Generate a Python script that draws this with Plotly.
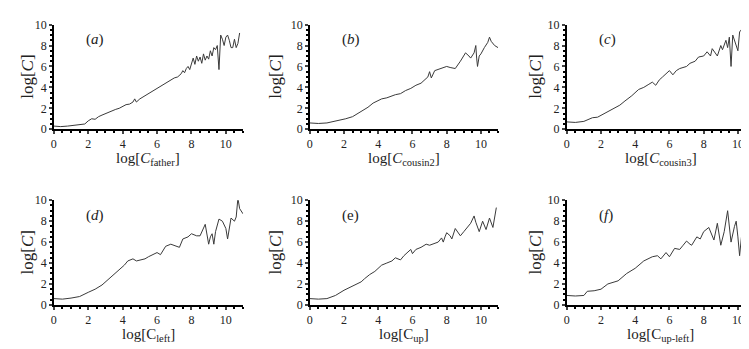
import plotly.graph_objects as go
from plotly.subplots import make_subplots

# ---- data ----
a_x = [0, 0.4, 0.8, 1.2, 1.6, 1.8, 2.0, 2.2, 2.4, 2.6, 2.8, 3.0, 3.2, 3.4, 3.6, 3.8, 4.0, 4.2, 4.4, 4.6, 4.7, 4.8, 5.0, 5.2, 5.4, 5.6, 5.8, 6.0, 6.2, 6.4, 6.6, 6.8, 7.0, 7.2, 7.4, 7.5, 7.6, 7.7, 7.8, 7.9, 8.0, 8.1, 8.2, 8.3, 8.4, 8.5, 8.6, 8.7, 8.8, 8.9, 9.0, 9.1, 9.2, 9.3, 9.4, 9.5, 9.6, 9.65, 9.7, 9.8, 9.9, 10.0, 10.1, 10.2, 10.3, 10.4, 10.5, 10.6, 10.7, 10.8]
a_y = [0.3, 0.25, 0.3, 0.4, 0.45, 0.5, 0.8, 1.0, 0.95, 1.2, 1.35, 1.5, 1.6, 1.8, 1.9, 2.0, 2.2, 2.35, 2.4, 2.6, 2.9, 2.6, 2.9, 3.1, 3.3, 3.5, 3.7, 3.9, 4.1, 4.3, 4.5, 4.7, 4.9, 5.0, 5.3, 5.6, 5.4, 5.8, 6.0, 5.7, 6.4, 6.8, 6.2, 7.0, 6.5, 6.9, 6.3, 7.2, 6.6, 7.0, 6.7, 7.5, 7.0, 7.8, 7.6, 8.0, 5.7, 7.8, 9.0, 8.6, 8.0, 8.8, 9.0, 8.5, 7.8, 7.8, 8.6, 7.8, 8.2, 9.2]

b_x = [0, 0.5, 1.0, 1.4, 1.7, 2.1, 2.5, 3.0, 3.4, 3.7, 4.0, 4.2, 4.5, 5.0, 5.3, 5.6, 5.9, 6.2, 6.5, 6.8, 6.9, 7.0, 7.1, 7.3, 7.5, 7.8, 8.0, 8.2, 8.5, 8.8, 9.1, 9.3, 9.4, 9.6, 9.7, 9.75, 9.8, 9.9, 10.0, 10.2, 10.4, 10.5, 10.6, 10.8, 11.0]
b_y = [0.6, 0.55, 0.6, 0.75, 0.8, 1.0, 1.2, 1.7, 2.1, 2.5, 2.7, 2.9, 3.0, 3.3, 3.4, 3.7, 3.9, 4.2, 4.4, 4.8, 5.0, 5.5, 4.9, 5.6, 5.7, 5.9, 6.0, 5.9, 5.8, 6.5, 7.3, 7.0, 6.8, 7.3, 8.0, 6.8, 6.0, 7.0, 7.2, 7.8, 8.3, 8.8, 8.4, 8.0, 7.8]

c_x = [0, 0.5, 1.0, 1.5, 1.8, 2.2, 2.5, 2.8, 3.1, 3.4, 3.8, 4.2, 4.5, 4.8, 5.0, 5.2, 5.4, 5.6, 5.8, 6.0, 6.2, 6.4, 6.6, 6.8, 7.0, 7.2, 7.5, 7.7, 8.0, 8.2, 8.4, 8.5, 8.7, 8.8, 9.0, 9.1, 9.3, 9.4, 9.5, 9.6, 9.7, 9.8, 9.9, 10.0, 10.1, 10.2, 10.3, 10.4, 10.5, 10.7, 10.9, 11.0]
c_y = [0.7, 0.65, 0.75, 1.1, 1.15, 1.5, 1.7, 2.0, 2.3, 2.7, 3.2, 3.8, 4.0, 4.3, 4.5, 4.2, 4.7, 5.0, 5.3, 5.6, 5.2, 5.6, 5.8, 5.9, 6.0, 6.3, 6.5, 6.9, 7.0, 7.4, 7.0, 7.7, 7.2, 7.0, 8.0, 7.6, 8.5, 7.8, 8.8, 6.0, 9.0, 8.5, 8.0, 7.5, 9.3, 9.5, 8.2, 8.0, 9.2, 9.7, 9.4, 9.5]

d_x = [0, 0.5, 1.0, 1.5, 2.0, 2.4, 2.8, 3.2, 3.5, 3.8, 4.1, 4.3, 4.6, 4.8, 5.0, 5.3, 5.5, 5.8, 6.0, 6.2, 6.5, 6.8, 7.0, 7.3, 7.5, 7.8, 8.0, 8.3, 8.5, 8.8, 9.0, 9.1, 9.2, 9.3, 9.4, 9.6, 9.8, 10.0, 10.1, 10.2, 10.3, 10.5, 10.6, 10.7, 10.8, 11.0]
d_y = [0.6, 0.55, 0.65, 0.8, 1.2, 1.5, 1.9, 2.5, 2.9, 3.4, 3.8, 4.2, 4.4, 4.2, 4.3, 4.4, 4.6, 4.8, 5.0, 4.8, 5.6, 5.8, 5.7, 5.5, 6.3, 6.5, 6.8, 6.6, 6.6, 7.7, 5.8, 6.5, 6.8, 5.8, 7.0, 8.2, 8.0, 7.3, 6.3, 7.5, 8.3, 8.0, 8.4, 10.2, 9.2, 8.7]

e_x = [0, 0.5, 1.0, 1.5, 2.0, 2.4, 2.7, 3.0, 3.2, 3.5, 3.8, 4.0, 4.2, 4.5, 4.8, 5.0, 5.3, 5.5, 5.7, 5.9, 6.0, 6.2, 6.5, 6.8, 7.0, 7.3, 7.5, 7.7, 7.8, 7.9, 8.0, 8.2, 8.3, 8.5, 8.7, 8.8, 9.0, 9.2, 9.4, 9.6, 9.7, 9.9, 10.1, 10.3, 10.5, 10.7, 10.9]
e_y = [0.6, 0.55, 0.6, 0.9, 1.4, 1.7, 2.0, 2.2, 2.5, 2.9, 3.2, 3.5, 3.8, 4.0, 4.2, 4.5, 4.3, 4.7, 5.0, 5.3, 4.9, 5.3, 5.5, 5.8, 5.7, 5.9, 6.0, 6.4, 6.0, 6.5, 6.9, 6.6, 6.3, 7.3, 6.8, 6.6, 7.0, 7.4, 7.8, 8.5, 7.9, 7.0, 8.0, 7.2, 8.3, 7.4, 9.3]

f_x = [0, 0.5, 1.0, 1.2, 1.6, 2.0, 2.4, 3.0, 3.5, 4.0, 4.5, 5.0, 5.3, 5.5, 5.8, 6.0, 6.3, 6.6, 6.8, 7.0, 7.2, 7.3, 7.6, 7.8, 8.0, 8.3, 8.6, 8.8, 9.0, 9.2, 9.4, 9.6, 9.8, 9.9, 10.0, 10.1, 10.3, 10.5, 10.7, 10.9, 11.0]
f_y = [0.9, 0.85, 0.9, 1.3, 1.35, 1.5, 2.0, 2.3, 3.0, 3.5, 4.2, 4.6, 4.7, 4.4, 5.0, 4.6, 5.4, 5.3, 5.7, 6.1, 5.8, 5.7, 6.5, 6.3, 7.0, 7.4, 6.2, 7.8, 5.7, 7.0, 9.0, 6.0, 7.5, 8.0, 6.5, 4.7, 8.0, 7.5, 8.5, 8.2, 9.7]

panel_labels = ["(<i>a</i>)", "(<i>b</i>)", "(<i>c</i>)", "(<i>d</i>)", "(e)", "(<i>f</i>)"]
x_titles = ["log[<i>C</i><sub>father</sub>]", "log[<i>C</i><sub>cousin2</sub>]", "log[<i>C</i><sub>cousin3</sub>]",
            "log[C<sub>left</sub>]", "log[C<sub>up</sub>]", "log[C<sub>up-left</sub>]"]
y_title = "log[<i>C</i>]"
x_ticks = [0, 2, 4, 6, 8, 10]
y_ticks = [0, 2, 4, 6, 8, 10]

series = [(a_x, a_y), (b_x, b_y), (c_x, c_y), (d_x, d_y), (e_x, e_y), (f_x, f_y)]

# ---- layout geometry (pixels -> paper) ----
W, H = 749, 349
col_px = [(43, 233), (300, 489), (558, 747)]
row_px = [(10, 119), (193, 302)]
xtitle_off = [31, 31]
ytitle_off = [26, 34, 31]

fig = make_subplots(rows=2, cols=3)
serif = "Liberation Serif"

for i, (xs, ys) in enumerate(series):
    r, c = divmod(i, 3)
    fig.add_trace(go.Scatter(x=xs, y=ys, mode="lines",
                             line=dict(color="#3a3a3a", width=1),
                             showlegend=False), row=r + 1, col=c + 1)
    x0, x1 = col_px[c]
    y0, y1 = row_px[r]
    xd = [x0 / W, x1 / W]
    yd = [1 - y1 / H, 1 - y0 / H]
    fig.update_xaxes(domain=xd, range=[0, 11], tickvals=x_ticks,
                     ticks="outside", ticklen=3, tickwidth=1.5,
                     showline=True, linecolor="black", linewidth=1.5,
                     showgrid=False, zeroline=False,
                     minor=dict(dtick=0.5, ticks="outside", ticklen=2, tickcolor="black"),
                     tickfont=dict(family=serif, size=12, color="#222"),
                     row=r + 1, col=c + 1)
    fig.update_yaxes(domain=yd, range=[0, 10], tickvals=y_ticks,
                     ticks="outside", ticklen=3, tickwidth=1.5,
                     showline=True, linecolor="black", linewidth=1.5,
                     showgrid=False, zeroline=False,
                     minor=dict(dtick=0.5, ticks="outside", ticklen=2, tickcolor="black"),
                     tickfont=dict(family=serif, size=12, color="#222"),
                     row=r + 1, col=c + 1)
    # panel label
    fig.add_annotation(x=(x0 + 30) / W, y=1 - (y0 + 16) / H, xref="paper", yref="paper",
                       text=panel_labels[i], showarrow=False,
                       font=dict(family=serif, size=15, color="#222"),
                       xanchor="left", yanchor="middle")
    # x title
    fig.add_annotation(x=(x0 + (x1 - x0) * 0.5) / W, y=1 - (y1 + xtitle_off[r]) / H,
                       xref="paper", yref="paper", text=x_titles[i], showarrow=False,
                       xanchor="center", yanchor="middle",
                       font=dict(family=serif, size=15, color="#222"))
    # y title
    fig.add_annotation(x=(x0 - ytitle_off[c]) / W, y=1 - ((y0 + y1) / 2) / H,
                       xref="paper", yref="paper", text=y_title, showarrow=False,
                       textangle=-90, xanchor="center", yanchor="middle",
                       font=dict(family=serif, size=17, color="#222"))

fig.update_layout(width=W, height=H, margin=dict(l=0, r=0, t=0, b=0),
                  plot_bgcolor="white", paper_bgcolor="white")
fig.write_html("out.html")
